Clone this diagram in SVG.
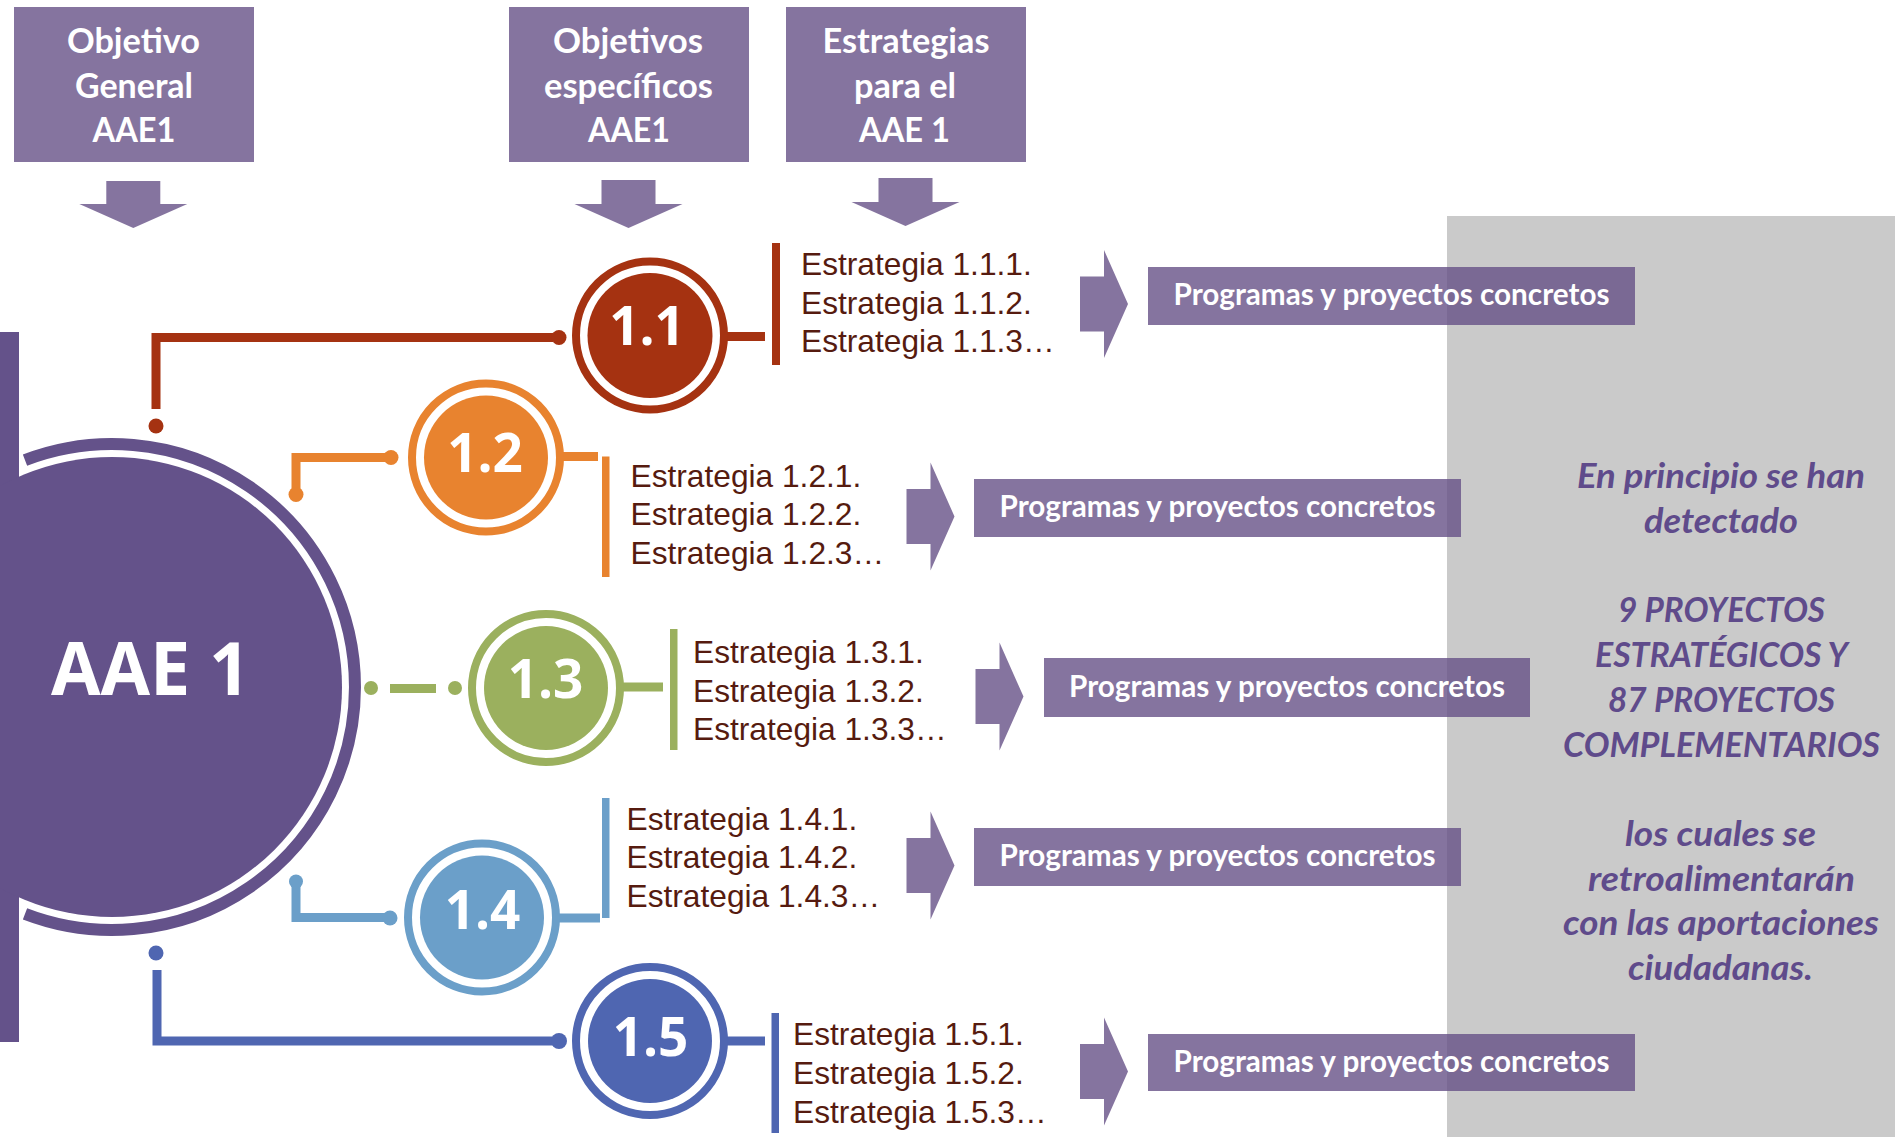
<svg xmlns="http://www.w3.org/2000/svg" width="1895" height="1137" viewBox="0 0 1895 1137">
<style>
.box{fill:#644F85;fill-opacity:.79}
.hdr{font-family:Lato,"Open Sans",sans-serif;font-weight:700;font-size:35px;fill:#fff;text-anchor:middle}
.prog{font-family:Lato,"Open Sans",sans-serif;font-weight:700;font-size:29.5px;fill:#fff;text-anchor:middle}
.est{font-family:"Liberation Sans",Arial,sans-serif;font-size:31.7px;fill:#561B0F}
.num{font-family:"Open Sans",sans-serif;font-weight:700;font-size:53px;fill:#fff;text-anchor:middle}
.side{font-family:Lato,"Open Sans",sans-serif;font-weight:700;font-style:italic;font-size:35px;fill:#5F4B8B;text-anchor:middle}
.ln{fill:none;stroke-width:9;stroke-linejoin:miter;stroke-linecap:butt}
.ring{fill:none;stroke-width:8}
</style>
<rect id="panel" x="1447" y="216" width="448" height="921" fill="#CACACA"/>

<g id="header-general">
<rect class="box" x="14" y="7" width="240" height="155"/>
<text class="hdr" x="133.5" y="53" textLength="133" lengthAdjust="spacingAndGlyphs">Objetivo</text>
<text class="hdr" x="134" y="97.5" textLength="118" lengthAdjust="spacingAndGlyphs">General</text>
<text class="hdr" x="134" y="142" textLength="83" lengthAdjust="spacingAndGlyphs">AAE1</text>
<path class="box" d="M106.3 181H160.3V204H187.3L133.3 228L79.3 204H106.3Z"/>
</g>
<g id="header-especificos">
<rect class="box" x="509" y="7" width="240" height="155"/>
<text class="hdr" x="628" y="53" textLength="150" lengthAdjust="spacingAndGlyphs">Objetivos</text>
<text class="hdr" x="628.5" y="97.5" textLength="169" lengthAdjust="spacingAndGlyphs">específicos</text>
<text class="hdr" x="629" y="142" textLength="82" lengthAdjust="spacingAndGlyphs">AAE1</text>
<path class="box" d="M601.5 180H655.5V204H682.5L628.5 228L574.5 204H601.5Z"/>
</g>
<g id="header-estrategias">
<rect class="box" x="786" y="7" width="240" height="155"/>
<text class="hdr" x="906" y="53" textLength="167" lengthAdjust="spacingAndGlyphs">Estrategias</text>
<text class="hdr" x="905" y="97.5" textLength="102" lengthAdjust="spacingAndGlyphs">para el</text>
<text class="hdr" x="904.5" y="142" textLength="91" lengthAdjust="spacingAndGlyphs">AAE 1</text>
<path class="box" d="M878.5 178H932.5V202H959.5L905.5 226L851.5 202H878.5Z"/>
</g>

<g id="connectors">
<path class="ln" stroke="#A53211" d="M156 409V337.5H553"/>
<circle cx="156" cy="426" r="7.5" fill="#A53211"/>
<circle cx="559" cy="337.5" r="7.5" fill="#A53211"/>
<path class="ln" stroke="#A53211" d="M727 336.5H765"/>

<path class="ln" stroke="#E8832F" d="M296 494V457.5H391"/>
<circle cx="296" cy="494.5" r="7.5" fill="#E8832F"/>
<circle cx="391" cy="457.5" r="7.5" fill="#E8832F"/>
<path class="ln" stroke="#E8832F" d="M563 456.5H598"/>

<circle cx="371" cy="688" r="7" fill="#9BB05E"/>
<path class="ln" stroke="#9BB05E" d="M390 688.5H436"/>
<circle cx="455" cy="688" r="7" fill="#9BB05E"/>
<path class="ln" stroke="#9BB05E" d="M623 687H663"/>

<path class="ln" stroke="#6B9FC9" d="M296 882V917.5H390"/>
<circle cx="296" cy="881.5" r="7" fill="#6B9FC9"/>
<circle cx="390" cy="918" r="7.5" fill="#6B9FC9"/>
<path class="ln" stroke="#6B9FC9" d="M559 918H600"/>

<circle cx="156" cy="953" r="7.5" fill="#4F66B1"/>
<path class="ln" stroke="#4F66B1" d="M157 970V1041H553"/>
<circle cx="559" cy="1041" r="8" fill="#4F66B1"/>
<path class="ln" stroke="#4F66B1" d="M727 1041H765"/>
</g>

<g id="aae1">
<rect x="0" y="332" width="19" height="710" fill="#64528A"/>
<circle cx="112" cy="687" r="230" fill="#64528A"/>
<path d="M25 460.1A243 243 0 1 1 25 913.9" fill="none" stroke="#64528A" stroke-width="12"/>
<text x="51" y="695" font-family="'Open Sans',sans-serif" font-weight="700" font-size="74" fill="#fff" textLength="199" lengthAdjust="spacingAndGlyphs">AAE 1</text>
</g>

<g id="obj-1-1">
<circle class="ring" cx="650" cy="335.5" r="74" stroke="#A53211"/>
<circle cx="650" cy="335.5" r="62.5" fill="#A53211"/>
<text class="num" x="647" y="345">1.1</text>
</g>
<g id="obj-1-2">
<circle class="ring" cx="486" cy="457.5" r="74" stroke="#E8832F"/>
<circle cx="486" cy="457.5" r="62" fill="#E8832F"/>
<text class="num" x="485" y="472">1.2</text>
</g>
<g id="obj-1-3">
<circle class="ring" cx="546" cy="688" r="74" stroke="#9BB05E"/>
<circle cx="546" cy="688" r="62" fill="#9BB05E"/>
<text class="num" x="545.5" y="698">1.3</text>
</g>
<g id="obj-1-4">
<circle class="ring" cx="482" cy="917.5" r="74" stroke="#6B9FC9"/>
<circle cx="482" cy="917.5" r="62" fill="#6B9FC9"/>
<text class="num" x="482.5" y="929">1.4</text>
</g>
<g id="obj-1-5">
<circle class="ring" cx="650" cy="1041" r="74" stroke="#4F66B1"/>
<circle cx="650" cy="1041" r="62" fill="#4F66B1"/>
<text class="num" x="650.5" y="1056">1.5</text>
</g>

<g id="est-1-1">
<rect x="772" y="243" width="8" height="122" fill="#A53211"/>
<text class="est" x="801" y="275">Estrategia 1.1.1.</text>
<text class="est" x="801" y="313.5">Estrategia 1.1.2.</text>
<text class="est" x="801" y="352">Estrategia 1.1.3…</text>
</g>
<g id="est-1-2">
<rect x="602" y="456.5" width="7.5" height="120.5" fill="#E8832F"/>
<text class="est" x="630.5" y="486.5">Estrategia 1.2.1.</text>
<text class="est" x="630.5" y="525">Estrategia 1.2.2.</text>
<text class="est" x="630.5" y="563.5">Estrategia 1.2.3…</text>
</g>
<g id="est-1-3">
<rect x="670" y="629" width="7.5" height="121" fill="#9BB05E"/>
<text class="est" x="693" y="663.3">Estrategia 1.3.1.</text>
<text class="est" x="693" y="701.7">Estrategia 1.3.2.</text>
<text class="est" x="693" y="739.5">Estrategia 1.3.3…</text>
</g>
<g id="est-1-4">
<rect x="602" y="798" width="7.5" height="120" fill="#6B9FC9"/>
<text class="est" x="626.5" y="830">Estrategia 1.4.1.</text>
<text class="est" x="626.5" y="868">Estrategia 1.4.2.</text>
<text class="est" x="626.5" y="906.7">Estrategia 1.4.3…</text>
</g>
<g id="est-1-5">
<rect x="771.5" y="1013" width="7.5" height="120" fill="#4F66B1"/>
<text class="est" x="793" y="1045">Estrategia 1.5.1.</text>
<text class="est" x="793" y="1084">Estrategia 1.5.2.</text>
<text class="est" x="793" y="1122.7">Estrategia 1.5.3…</text>
</g>

<g id="prog-1-1">
<path class="box" d="M1080 276.5H1104V250L1128 304L1104 358V331.5H1080Z"/>
<rect class="box" x="1148" y="267" width="487" height="58"/>
<text class="prog" x="1391.5" y="305" textLength="436" lengthAdjust="spacingAndGlyphs">Programas y proyectos concretos</text>
</g>
<g id="prog-1-2">
<path class="box" d="M906.5 489H930.5V462.5L954.5 516.5L930.5 570.5V544H906.5Z"/>
<rect class="box" x="974" y="479" width="487" height="58"/>
<text class="prog" x="1217.5" y="517" textLength="436" lengthAdjust="spacingAndGlyphs">Programas y proyectos concretos</text>
</g>
<g id="prog-1-3">
<path class="box" d="M975.5 669H999.5V642.5L1023.5 696.5L999.5 750.5V724H975.5Z"/>
<rect class="box" x="1044" y="658" width="486" height="59"/>
<text class="prog" x="1287" y="696.5" textLength="436" lengthAdjust="spacingAndGlyphs">Programas y proyectos concretos</text>
</g>
<g id="prog-1-4">
<path class="box" d="M906.5 838H930.5V811.5L954.5 865.5L930.5 919.5V893H906.5Z"/>
<rect class="box" x="974" y="828" width="487" height="58"/>
<text class="prog" x="1217.5" y="866" textLength="436" lengthAdjust="spacingAndGlyphs">Programas y proyectos concretos</text>
</g>
<g id="prog-1-5">
<path class="box" d="M1080 1044H1104V1017.5L1128 1071.5L1104 1125.5V1099H1080Z"/>
<rect class="box" x="1148" y="1034" width="487" height="57"/>
<text class="prog" x="1391.5" y="1072" textLength="436" lengthAdjust="spacingAndGlyphs">Programas y proyectos concretos</text>
</g>

<g id="nota">
<text class="side" x="1721" y="488" textLength="288" lengthAdjust="spacingAndGlyphs">En principio se han</text>
<text class="side" x="1721" y="533" textLength="154" lengthAdjust="spacingAndGlyphs">detectado</text>
<text class="side" x="1721.5" y="622" textLength="207" lengthAdjust="spacingAndGlyphs">9 PROYECTOS</text>
<text class="side" x="1721.5" y="667" textLength="253" lengthAdjust="spacingAndGlyphs">ESTRATÉGICOS Y</text>
<text class="side" x="1721.5" y="711.5" textLength="227" lengthAdjust="spacingAndGlyphs">87 PROYECTOS</text>
<text class="side" x="1721.5" y="756.5" textLength="317" lengthAdjust="spacingAndGlyphs">COMPLEMENTARIOS</text>
<text class="side" x="1720.5" y="846" textLength="191" lengthAdjust="spacingAndGlyphs">los cuales se</text>
<text class="side" x="1721.5" y="890.5" textLength="267" lengthAdjust="spacingAndGlyphs">retroalimentarán</text>
<text class="side" x="1721" y="935" textLength="316" lengthAdjust="spacingAndGlyphs">con las aportaciones</text>
<text class="side" x="1720.5" y="980" textLength="185" lengthAdjust="spacingAndGlyphs">ciudadanas.</text>
</g>
</svg>
